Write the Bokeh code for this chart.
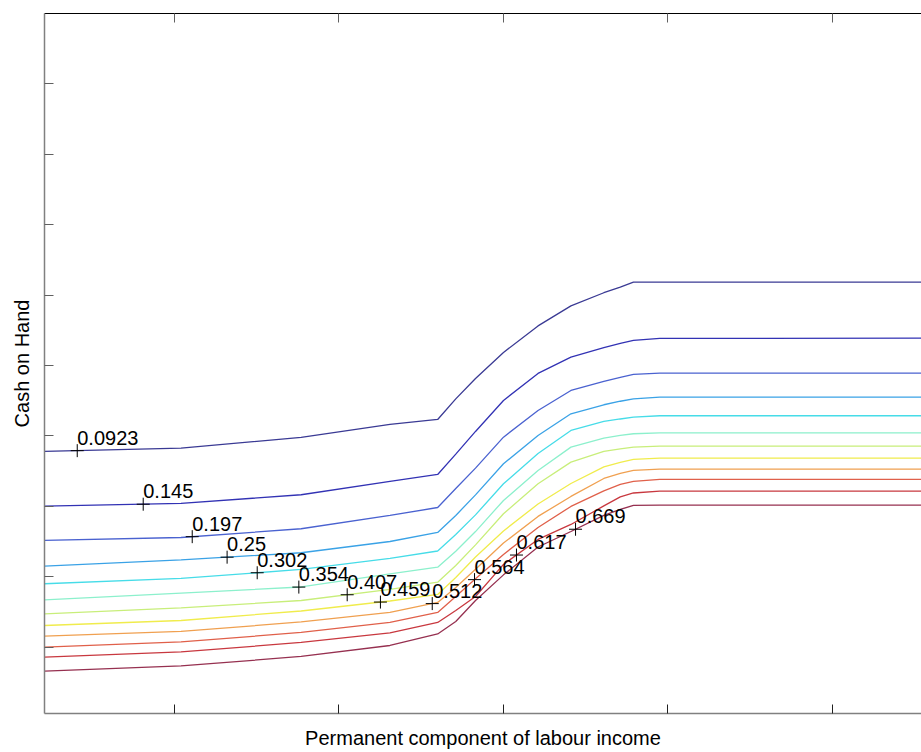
import numpy as np
from bokeh.plotting import figure
from bokeh.models import Range1d, LinearAxis, FixedTicker, CustomJSTickFormatter, ColumnDataSource
from bokeh.core.properties import value
from bokeh.embed import file_html
from bokeh.resources import INLINE

# ---- data ----
levels = [0.0923, 0.145, 0.197, 0.25, 0.302, 0.354, 0.407, 0.459, 0.512, 0.564, 0.617, 0.669]
level_text = ["0.0923", "0.145", "0.197", "0.25", "0.302", "0.354", "0.407", "0.459",
              "0.512", "0.564", "0.617", "0.669"]

# permanent component of labour income (x) sample points shared by all contour lines
income = [0.21, 1.04, 1.77, 2.31, 2.60, 2.71, 2.83, 3.00, 3.21, 3.41, 3.61, 3.71, 3.79, 3.95, 5.60]

# cash on hand (y) of each contour line at those points
c_0923 = [3.780, 3.827, 3.979, 4.163, 4.234, 4.526, 4.817, 5.186, 5.563, 5.847, 6.034, 6.114, 6.185, 6.185, 6.185]
c_145 = [3.003, 3.041, 3.165, 3.354, 3.453, 3.741, 4.064, 4.504, 4.888, 5.119, 5.253, 5.314, 5.357, 5.385, 5.389]
c_197 = [2.516, 2.558, 2.682, 2.871, 2.984, 3.254, 3.543, 3.983, 4.362, 4.646, 4.774, 4.831, 4.874, 4.892, 4.892]
c_250 = [2.151, 2.239, 2.341, 2.501, 2.629, 2.871, 3.163, 3.605, 4.007, 4.315, 4.443, 4.493, 4.528, 4.551, 4.551]
c_302 = [1.901, 1.976, 2.104, 2.260, 2.366, 2.601, 2.879, 3.321, 3.751, 4.078, 4.206, 4.241, 4.267, 4.287, 4.287]
c_354 = [1.673, 1.768, 1.855, 2.040, 2.136, 2.362, 2.642, 3.084, 3.510, 3.841, 3.969, 4.007, 4.031, 4.045, 4.045]
c_407 = [1.474, 1.557, 1.663, 1.820, 1.923, 2.161, 2.453, 2.895, 3.321, 3.628, 3.780, 3.815, 3.841, 3.855, 3.855]
c_459 = [1.308, 1.379, 1.514, 1.656, 1.749, 1.990, 2.281, 2.651, 3.034, 3.325, 3.560, 3.624, 3.666, 3.685, 3.685]
c_512 = [1.156, 1.223, 1.358, 1.493, 1.635, 1.848, 2.108, 2.479, 2.857, 3.141, 3.396, 3.467, 3.510, 3.528, 3.528]
c_564 = [1.000, 1.074, 1.209, 1.351, 1.493, 1.720, 1.972, 2.317, 2.700, 2.999, 3.219, 3.311, 3.354, 3.382, 3.382]
c_617 = [0.858, 0.932, 1.067, 1.202, 1.351, 1.521, 1.720, 2.175, 2.530, 2.743, 3.006, 3.134, 3.190, 3.216, 3.216]
c_669 = [0.659, 0.733, 0.868, 1.024, 1.188, 1.365, 1.663, 2.027, 2.423, 2.643, 2.871, 2.956, 3.013, 3.017, 3.017]

contours = [c_0923, c_145, c_197, c_250, c_302, c_354, c_407, c_459, c_512, c_564, c_617, c_669]

# x position of each inline label (on its own contour)
label_x = [0.409, 0.810, 1.108, 1.320, 1.503, 1.756, 2.050, 2.252, 2.567, 2.824, 3.079, 3.438]

x_ticks = [1, 2, 3, 4, 5]
y_ticks = [1, 2, 3, 4, 5, 6, 7, 8, 9]

colors = ["#3a3a94", "#3232b4", "#4a62d0", "#3aa2e6", "#46dce8", "#8cf0cc",
          "#c8ee7a", "#f0ec4c", "#f0a050", "#e0604a", "#c8383f", "#963050"]

FONT = "Liberation Sans"

p = figure(width=921, height=752, output_backend="svg", toolbar_location=None,
           x_range=Range1d(0.21, 5.541), y_range=Range1d(0.058, 10.0),
           x_axis_type=None, y_axis_type=None,
           min_border_left=44, min_border_right=0, min_border_top=13, min_border_bottom=39)
p.outline_line_color = None
p.background_fill_color = "white"
p.border_fill_color = "white"


def make_axis(ticks, line_color, tick_color, label=None, standoff=5):
    ax = LinearAxis(ticker=FixedTicker(ticks=ticks),
                    formatter=CustomJSTickFormatter(code="return ''"))
    ax.major_tick_in = 9
    ax.major_tick_out = 0
    ax.minor_tick_in = 0
    ax.minor_tick_out = 0
    ax.axis_line_color = line_color
    ax.axis_line_width = 1.5
    ax.major_tick_line_color = tick_color
    ax.major_label_standoff = 0
    if label:
        ax.axis_label = label
        ax.axis_label_text_font = FONT
        ax.axis_label_text_font_size = "20px"
        ax.axis_label_text_font_style = "normal"
        ax.axis_label_text_color = "black"
        ax.axis_label_standoff = standoff
    return ax


left = make_axis(y_ticks, "#808080", "#606060", "Cash on Hand", 12)
bottom = make_axis(x_ticks, "#808080", "#202020", "Permanent component of labour income", 13)
top = make_axis(x_ticks, "black", "#606060")
top.axis_line_width = 1
p.add_layout(left, "left")
p.add_layout(bottom, "below")
p.add_layout(top, "above")

for ys, c in zip(contours, colors):
    p.line(income, ys, line_color=c, line_width=1.3)

lab_y = [float(np.interp(lx, income, ys)) for lx, ys in zip(label_x, contours)]
src = ColumnDataSource(dict(x=label_x, y=lab_y, t=level_text))
p.scatter("x", "y", source=src, marker="cross", size=13, line_color="black", line_width=1)
p.text("x", "y", text="t", source=src, text_font=value(FONT), text_font_size="20px",
       text_color="black", text_align="left", text_baseline="alphabetic",
       x_offset=0, y_offset=-13)

open("out.html", "w").write(file_html(p, INLINE))
